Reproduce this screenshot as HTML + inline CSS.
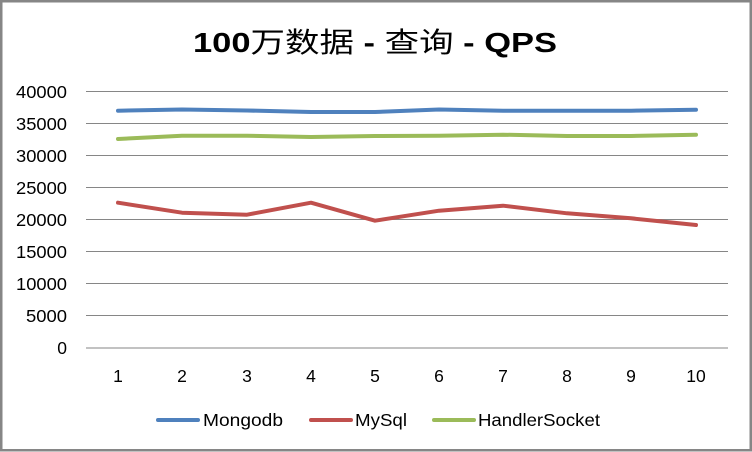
<!DOCTYPE html>
<html><head><meta charset="utf-8"><style>
html,body{margin:0;padding:0;background:#fff;}
svg{display:block;}
text{font-family:"Liberation Sans","Noto Sans CJK SC",sans-serif;fill:#000;}
</style></head><body>
<svg width="752" height="452" viewBox="0 0 752 452" xmlns="http://www.w3.org/2000/svg">
<rect x="1.25" y="1.25" width="749.5" height="449" fill="#fff" stroke="#868686" stroke-width="2.5"/>
<text x="193" y="52" font-size="28" textLength="364" lengthAdjust="spacingAndGlyphs"><tspan font-weight="bold">100</tspan><tspan>万数据</tspan><tspan font-weight="bold"> - </tspan><tspan>查询</tspan><tspan font-weight="bold"> - QPS</tspan></text>
<g stroke="#868686" stroke-width="1">
<line x1="86" y1="91.5" x2="728" y2="91.5"/>
<line x1="86" y1="123.5" x2="728" y2="123.5"/>
<line x1="86" y1="155.5" x2="728" y2="155.5"/>
<line x1="86" y1="187.5" x2="728" y2="187.5"/>
<line x1="86" y1="219.5" x2="728" y2="219.5"/>
<line x1="86" y1="251.5" x2="728" y2="251.5"/>
<line x1="86" y1="283.5" x2="728" y2="283.5"/>
<line x1="86" y1="315.5" x2="728" y2="315.5"/>
<line x1="86" y1="348" x2="728" y2="348"/>
</g>
<g font-size="17.5" text-anchor="end">
<text x="67" y="98" textLength="51" lengthAdjust="spacingAndGlyphs">40000</text>
<text x="67" y="130" textLength="51" lengthAdjust="spacingAndGlyphs">35000</text>
<text x="67" y="162" textLength="51" lengthAdjust="spacingAndGlyphs">30000</text>
<text x="67" y="194" textLength="51" lengthAdjust="spacingAndGlyphs">25000</text>
<text x="67" y="226" textLength="51" lengthAdjust="spacingAndGlyphs">20000</text>
<text x="67" y="258" textLength="51" lengthAdjust="spacingAndGlyphs">15000</text>
<text x="67" y="290" textLength="51" lengthAdjust="spacingAndGlyphs">10000</text>
<text x="67" y="322" textLength="41" lengthAdjust="spacingAndGlyphs">5000</text>
<text x="67" y="354">0</text>
</g>
<g font-size="17.5" text-anchor="middle">
<text x="118" y="382">1</text>
<text x="182" y="382">2</text>
<text x="247" y="382">3</text>
<text x="311" y="382">4</text>
<text x="375" y="382">5</text>
<text x="439" y="382">6</text>
<text x="503" y="382">7</text>
<text x="567" y="382">8</text>
<text x="631" y="382">9</text>
<text x="696" y="382">10</text>
</g>
<g fill="none" stroke-width="4" stroke-linejoin="round" stroke-linecap="round">
<polyline stroke="#4F81BD" points="118,110.7 182,109.5 247,110.5 311,112 375,112 439,109.5 503,110.7 567,110.7 631,110.7 696,109.7"/>
<polyline stroke="#9BBB59" points="118,139 182,135.7 247,135.7 311,137 375,136 439,135.7 503,134.7 567,136 631,136 696,134.7"/>
<polyline stroke="#C0504D" points="118,202.7 182,212.7 247,214.7 311,202.7 375,220.7 439,210.7 503,205.7 567,213.3 631,218.3 696,225"/>
</g>
<g stroke-width="4" stroke-linecap="round">
<line x1="158" y1="420" x2="198" y2="420" stroke="#4F81BD"/>
<line x1="311" y1="420" x2="351" y2="420" stroke="#C0504D"/>
<line x1="434" y1="420" x2="474" y2="420" stroke="#9BBB59"/>
</g>
<g font-size="17.5">
<text x="203" y="426" textLength="80" lengthAdjust="spacingAndGlyphs">Mongodb</text>
<text x="355" y="426" textLength="52" lengthAdjust="spacingAndGlyphs">MySql</text>
<text x="478" y="426" textLength="122" lengthAdjust="spacingAndGlyphs">HandlerSocket</text>
</g>
</svg>
</body></html>
